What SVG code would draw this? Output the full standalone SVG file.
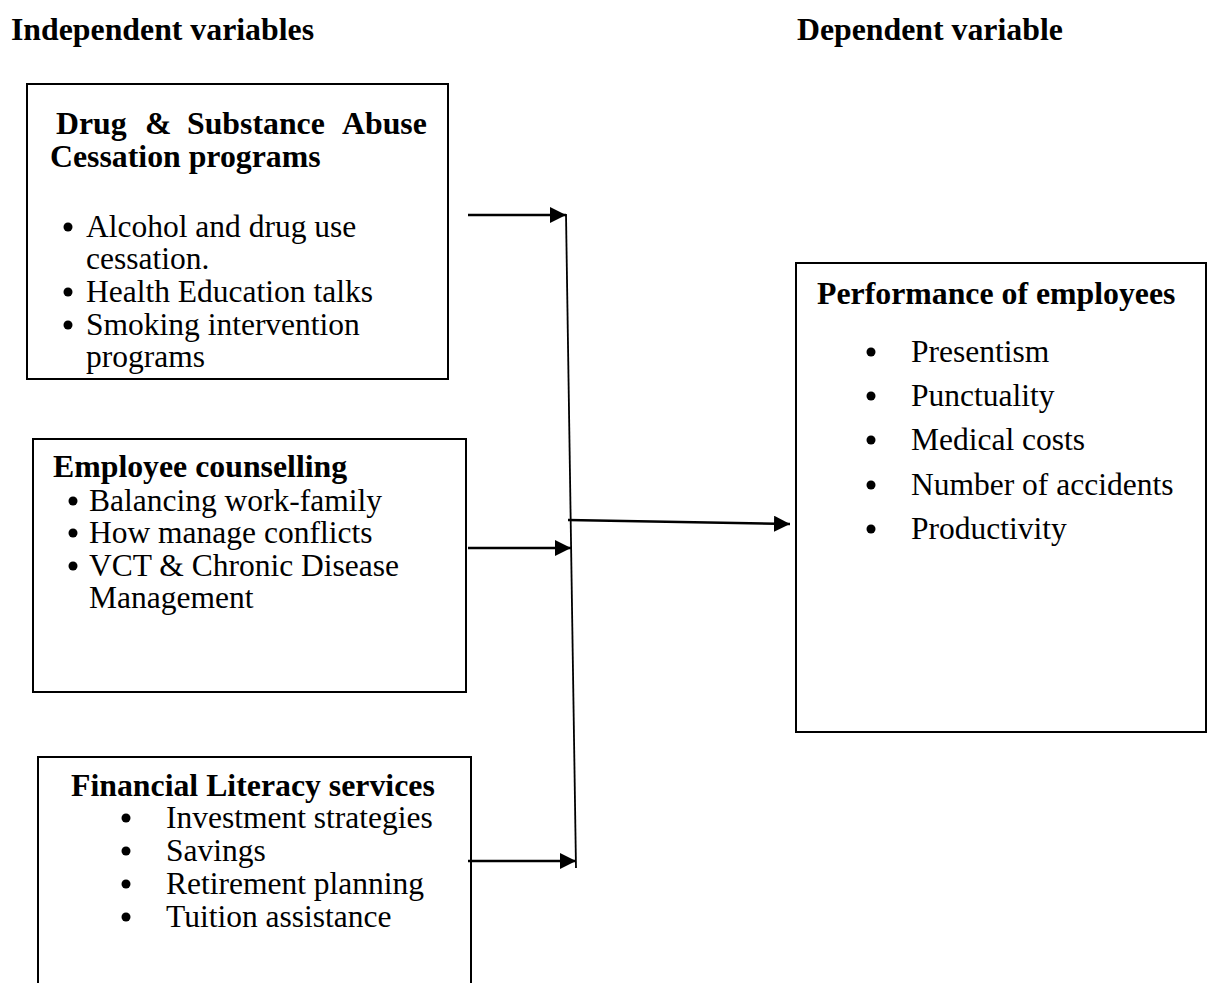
<svg xmlns="http://www.w3.org/2000/svg" width="1213" height="983" viewBox="0 0 1213 983">
<style>
  .box{fill:none;stroke:#000;stroke-width:2}
  .h{font-family:"Liberation Serif","Times New Roman",serif;font-weight:bold;font-size:31.8px;fill:#000}
  .t{font-family:"Liberation Serif","Times New Roman",serif;font-size:31.5px;fill:#000}
  .b{fill:#000}
  .c{stroke:#000;stroke-width:2.5;fill:none}
  .v{stroke:#000;stroke-width:1.8;fill:none}
</style>
<defs>
  <marker id="ah" markerWidth="17" markerHeight="17" refX="16" refY="8" orient="auto" markerUnits="userSpaceOnUse">
    <path d="M0,0 L16,8 L0,16 Z" fill="#000"/>
  </marker>
</defs>
<rect width="1213" height="983" fill="#fff"/>
<g id="titles">
  <text class="h" x="11" y="40">Independent variables</text>
  <text class="h" x="797" y="40">Dependent variable</text>
</g>
<g id="node-drug">
  <rect class="box" x="27" y="84" width="421" height="295"/>
  <text class="h" y="134"><tspan x="56">Drug</tspan><tspan x="145">&amp;</tspan><tspan x="187">Substance</tspan><tspan x="342">Abuse</tspan></text>
  <text class="h" x="50" y="167">Cessation programs</text>
  <circle class="b" cx="68" cy="227" r="4.5"/>
  <text class="t" x="86" y="237">Alcohol and drug use</text>
  <text class="t" x="86" y="269">cessation.</text>
  <circle class="b" cx="68" cy="292" r="4.5"/>
  <text class="t" x="86" y="302">Health Education talks</text>
  <circle class="b" cx="68" cy="325" r="4.5"/>
  <text class="t" x="86" y="335">Smoking intervention</text>
  <text class="t" x="86" y="367">programs</text>
</g>
<g id="node-counselling">
  <rect class="box" x="33" y="439" width="433" height="253"/>
  <text class="h" x="53" y="477">Employee counselling</text>
  <circle class="b" cx="73" cy="501" r="4.5"/>
  <text class="t" x="89" y="511">Balancing work-family</text>
  <circle class="b" cx="73" cy="533" r="4.5"/>
  <text class="t" x="89" y="543">How manage conflicts</text>
  <circle class="b" cx="73" cy="566" r="4.5"/>
  <text class="t" x="89" y="576">VCT &amp; Chronic Disease</text>
  <text class="t" x="89" y="608">Management</text>
</g>
<g id="node-financial">
  <path class="box" d="M38,984 V757 H471 V984"/>
  <text class="h" x="71" y="796">Financial Literacy services</text>
  <circle class="b" cx="126" cy="818" r="4.5"/>
  <text class="t" x="166" y="828">Investment strategies</text>
  <circle class="b" cx="126" cy="851" r="4.5"/>
  <text class="t" x="166" y="861">Savings</text>
  <circle class="b" cx="126" cy="884" r="4.5"/>
  <text class="t" x="166" y="894">Retirement planning</text>
  <circle class="b" cx="126" cy="917" r="4.5"/>
  <text class="t" x="166" y="927">Tuition assistance</text>
</g>
<g id="node-performance">
  <rect class="box" x="796" y="263" width="410" height="469"/>
  <text class="h" x="817" y="304">Performance of employees</text>
  <circle class="b" cx="871" cy="352" r="4.5"/>
  <text class="t" x="911" y="362">Presentism</text>
  <circle class="b" cx="871" cy="396" r="4.5"/>
  <text class="t" x="911" y="406">Punctuality</text>
  <circle class="b" cx="871" cy="440" r="4.5"/>
  <text class="t" x="911" y="450">Medical costs</text>
  <circle class="b" cx="871" cy="485" r="4.5"/>
  <text class="t" x="911" y="495">Number of accidents</text>
  <circle class="b" cx="871" cy="529" r="4.5"/>
  <text class="t" x="911" y="539">Productivity</text>
</g>
<g id="connectors">
  <line class="c" x1="468" y1="215" x2="566" y2="215" marker-end="url(#ah)"/>
  <line class="c" x1="468" y1="548" x2="571" y2="548" marker-end="url(#ah)"/>
  <line class="c" x1="468" y1="861" x2="576" y2="861" marker-end="url(#ah)"/>
  <line class="v" x1="566" y1="214" x2="576" y2="868"/>
  <line class="c" x1="568" y1="520" x2="790" y2="524" marker-end="url(#ah)"/>
</g>
</svg>
